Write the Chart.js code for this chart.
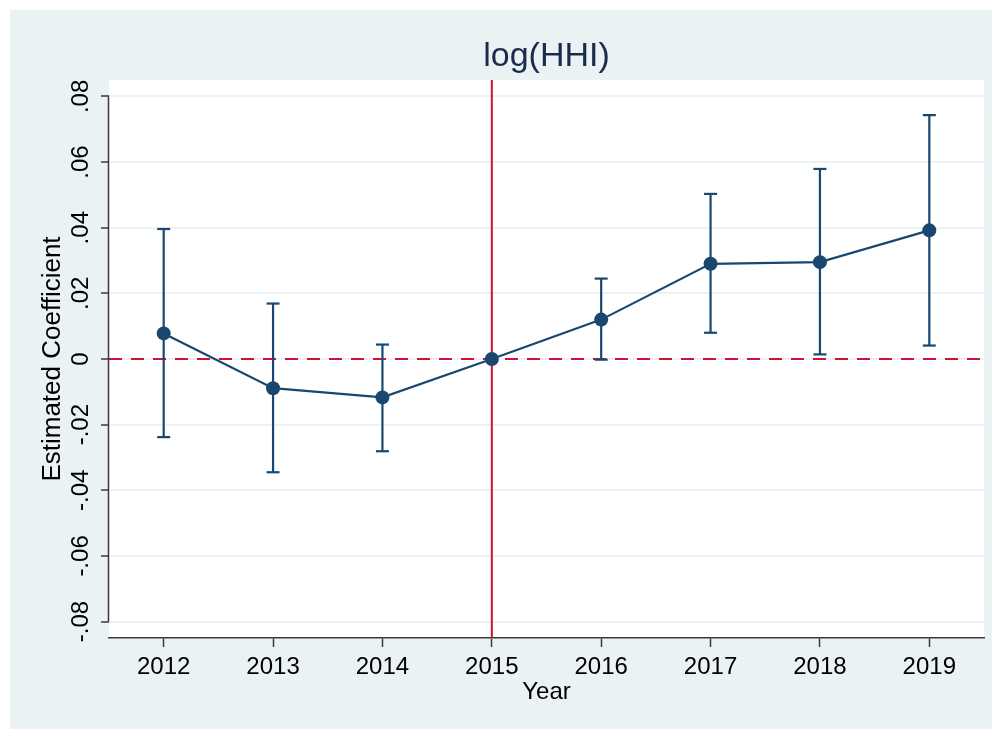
<!DOCTYPE html>
<html>
<head>
<meta charset="utf-8">
<script src="https://cdn.jsdelivr.net/npm/chart.js@4.4.1/dist/chart.umd.min.js"></script>
<style>
  html, body { margin: 0; padding: 0; background: #ffffff; }
  #wrap { width: 992px; height: 729px; }
</style>
</head>
<body>
<div id="wrap"><canvas id="c" width="992" height="729"></canvas></div>
<script>
// ---- data ----
const years = [2012, 2013, 2014, 2015, 2016, 2017, 2018, 2019];
const coef  = [0.0078, -0.0089, -0.0117, 0.0000, 0.0120, 0.0290, 0.0295, 0.0392];
const ciLow = [-0.0238, -0.0345, -0.0281, null, -0.0002, 0.0080, 0.0014, 0.0041];
const ciHigh = [0.0396, 0.0169, 0.0044, null, 0.0245, 0.0503, 0.0579, 0.0743];
const yTickValues = [0.08, 0.06, 0.04, 0.02, 0, -0.02, -0.04, -0.06, -0.08];
const yTickLabels = ['.08', '.06', '.04', '.02', '0', '-.02', '-.04', '-.06', '-.08'];
const xTickLabels = ['2012', '2013', '2014', '2015', '2016', '2017', '2018', '2019'];
const eventYear = 2015;
const refValue = 0;
const titleText = 'log(HHI)';
const yTitle = 'Estimated Coefficient';
const xTitle = 'Year';
const xMin = 2011.5, xMax = 2019.5;
const yMin = -0.085, yMax = 0.085;

const NAVY = '#1a476f';
const RED = '#cc1238';
const BG = '#eaf2f3';
const FONT = "'Liberation Sans', Arial, Helvetica, sans-serif";

// build datasets from arrays
const pointData = years.map((yr, i) => ({ x: yr, y: coef[i] }));
const ciData = [];
years.forEach((yr, i) => {
  if (ciLow[i] === null || ciHigh[i] === null) return;
  ciData.push({ x: yr, y: ciLow[i] }, { x: yr, y: ciHigh[i] }, { x: yr, y: null });
});
const vLine = [{ x: eventYear, y: yMin }, { x: eventYear, y: yMax }];
const hLine = [{ x: xMin, y: refValue }, { x: xMax, y: refValue }];

const decor = {
  id: 'decor',
  beforeDraw(chart) {
    const ctx = chart.ctx, a = chart.chartArea;
    ctx.save();
    ctx.fillStyle = '#ffffff';
    ctx.fillRect(0, 0, chart.width, chart.height);
    ctx.fillStyle = BG;
    ctx.fillRect(10, 10, chart.width - 10, chart.height - 10);
    ctx.fillStyle = '#ffffff';
    ctx.fillRect(a.left, a.top, a.right - a.left, a.bottom - a.top);
    ctx.restore();
  },
  afterDraw(chart) {
    const ctx = chart.ctx, a = chart.chartArea, y = chart.scales.y;
    ctx.save();
    // y axis line spanning the tick range
    ctx.strokeStyle = '#3a3a3a';
    ctx.lineWidth = 1.5;
    ctx.beginPath();
    const top = y.getPixelForValue(Math.max(...yTickValues));
    const bot = y.getPixelForValue(Math.min(...yTickValues));
    ctx.moveTo(a.left - 0.5, top);
    ctx.lineTo(a.left - 0.5, bot);
    ctx.stroke();
    // title centred over plot region
    ctx.fillStyle = '#1b2b4b';
    ctx.font = '34px ' + FONT;
    ctx.textAlign = 'center';
    ctx.textBaseline = 'middle';
    ctx.fillText(titleText, (a.left + a.right) / 2, 56.5);
    ctx.restore();
  }
};

new Chart(document.getElementById('c'), {
  type: 'line',
  data: {
    datasets: [
      { label: 'coef', data: pointData, borderColor: NAVY, backgroundColor: NAVY,
        borderWidth: 2.2, pointRadius: 7, pointHoverRadius: 7, pointBorderWidth: 0,
        pointBackgroundColor: NAVY, tension: 0, order: 1 },
      { label: 'ci', data: ciData, borderColor: NAVY, borderWidth: 2.2, spanGaps: false,
        pointStyle: 'line', pointRadius: 6.5, pointHoverRadius: 6.5, pointBorderWidth: 2.2,
        pointBorderColor: NAVY, tension: 0, order: 2 },
      { label: 'event', data: vLine, borderColor: RED, borderWidth: 2, pointRadius: 0, order: 3 },
      { label: 'zero', data: hLine, borderColor: RED, borderWidth: 2, borderDash: [13, 9],
        pointRadius: 0, order: 4 }
    ]
  },
  options: {
    responsive: false,
    animation: false,
    events: [],
    layout: { autoPadding: false, padding: { left: 0, right: 8, top: 80, bottom: 0 } },
    plugins: { legend: { display: false }, title: { display: false }, tooltip: { enabled: false } },
    scales: {
      x: {
        type: 'linear', min: xMin, max: xMax,
        afterBuildTicks: (s) => { s.ticks = years.map(v => ({ value: v })); },
        afterFit: (s) => { s.height = 91; },
        grid: { drawOnChartArea: false, drawTicks: true, tickLength: 9, tickColor: '#3a3a3a', tickWidth: 1.5 },
        border: { display: true, color: '#3a3a3a', width: 1.5 },
        ticks: {
          autoSkip: false, maxRotation: 0, minRotation: 0, padding: 6,
          color: '#000', font: { family: FONT, size: 24 },
          callback: (v) => { const i = years.indexOf(v); return i >= 0 ? xTickLabels[i] : ''; }
        },
        title: { display: true, text: xTitle, color: '#000', font: { family: FONT, size: 24 },
                 padding: { top: 0, bottom: 22 } }
      },
      y: {
        type: 'linear', min: yMin, max: yMax,
        afterBuildTicks: (s) => { s.ticks = yTickValues.map(v => ({ value: v })); },
        afterFit: (s) => { s.width = 109; },
        grid: { color: BG, lineWidth: 2, drawTicks: true, tickLength: 8, tickColor: '#3a3a3a', tickWidth: 1.5 },
        border: { display: false },
        ticks: {
          autoSkip: false, minRotation: 90, maxRotation: 90, crossAlign: 'center', padding: -1,
          color: '#000', font: { family: FONT, size: 24 },
          callback: (v) => { const i = yTickValues.findIndex(t => Math.abs(t - v) < 1e-9); return i >= 0 ? yTickLabels[i] : ''; }
        },
        title: { display: true, text: yTitle, color: '#000', font: { family: FONT, size: 26 },
                 padding: { top: 37, bottom: 0 } }
      }
    }
  },
  plugins: [decor]
});
</script>
</body>
</html>
